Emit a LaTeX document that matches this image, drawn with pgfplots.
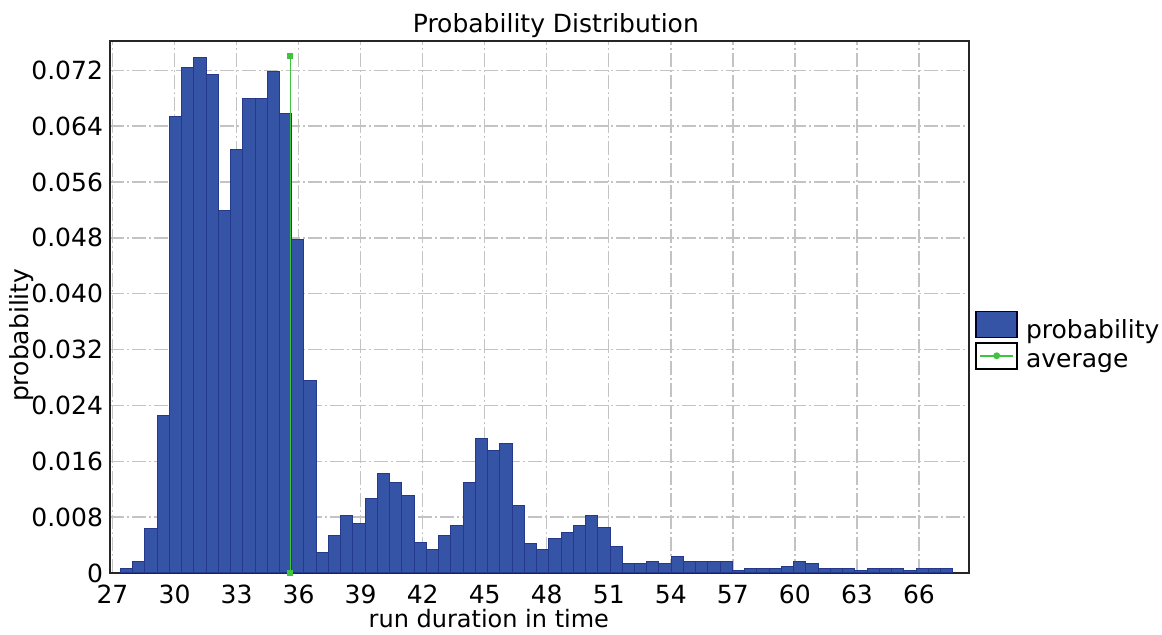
\documentclass[border=0pt]{standalone}
\usepackage{fontspec}
\setmainfont{DejaVu Sans}
\usepackage{pgfplots}
\pgfplotsset{compat=1.18}
\definecolor{barfill}{RGB}{54,84,166}
\definecolor{baredge}{RGB}{36,56,140}
\definecolor{avggreen}{RGB}{64,196,64}
\definecolor{gridgray}{RGB}{195,195,195}
\begin{document}
\begin{tikzpicture}
\begin{axis}[
  name=ax,
  scale only axis,
  width=429.5pt, height=266pt,
  xmin=26.88, xmax=68.42,
  ymin=0, ymax=0.0762,
  scaled y ticks=false,
  xtick={27,30,...,66},
  ytick={0,0.008,0.016,0.024,0.032,0.040,0.048,0.056,0.064,0.072},
  yticklabels={0,0.008,0.016,0.024,0.032,0.040,0.048,0.056,0.064,0.072},
  /pgf/number format/assume math mode=true,
  tick label style={font=\fontsize{12.5}{14}\selectfont},
  major tick length=0pt,
  grid=major,
  major grid style={gridgray, line width=0.7pt, dash pattern=on 7pt off 1.5pt on 1pt off 1.5pt},
  axis line style={black!85, line width=0.9pt},
  xticklabel style={anchor=base, yshift=-15.5pt},
  xlabel={run duration in time},
  xlabel style={at={(axis description cs:0.441,0)}, anchor=base, yshift=-27.5pt, font=\fontsize{12}{14}\selectfont},
  ylabel={probability},
  ylabel style={at={(axis description cs:-0.1024,0.447)}, anchor=center, font=\fontsize{12.5}{15}\selectfont},
  legend style={at={(axis description cs:1.007,0.494)}, anchor=north west, draw=none, fill=none, inner sep=0pt, row sep=0pt, column sep=4pt, nodes={inner sep=0pt, font=\fontsize{12.5}{14}\selectfont}},
  legend cell align=left,
]
\addplot[ybar interval, fill=barfill, draw=baredge, line width=0.5pt,
  legend image code/.code={\draw[fill=barfill, draw=black!80!blue, line width=0.8pt] (0pt,-3.2pt) rectangle (20.5pt,9.8pt);}]
coordinates {
(27.380,0.0006) (27.972,0.0016) (28.564,0.0064) (29.156,0.0225) (29.748,0.0654)
(30.340,0.0724) (30.932,0.0739) (31.524,0.0714) (32.116,0.0519) (32.708,0.0607)
(33.300,0.0679) (33.892,0.0679) (34.484,0.0718) (35.076,0.0658) (35.668,0.0477)
(36.260,0.0275) (36.852,0.0030) (37.444,0.0054) (38.036,0.0082) (38.628,0.0071)
(39.220,0.0107) (39.812,0.0143) (40.404,0.0129) (40.996,0.0111) (41.588,0.0044)
(42.180,0.0033) (42.772,0.0054) (43.364,0.0068) (43.956,0.0129) (44.548,0.0193)
(45.140,0.0175) (45.732,0.0185) (46.324,0.0097) (46.916,0.0042) (47.508,0.0034)
(48.100,0.0049) (48.692,0.0058) (49.284,0.0068) (49.876,0.0083) (50.468,0.0065)
(51.060,0.0038) (51.652,0.0013) (52.244,0.0013) (52.836,0.0017) (53.428,0.0013)
(54.020,0.0024) (54.612,0.0016) (55.204,0.0016) (55.796,0.0016) (56.388,0.0016)
(56.980,0.0003) (57.572,0.0006) (58.164,0.0006) (58.756,0.0006) (59.348,0.0010)
(59.940,0.0017) (60.532,0.0014) (61.124,0.0007) (61.716,0.0007) (62.308,0.0007)
(62.900,0.0004) (63.492,0.0007) (64.084,0.0007) (64.676,0.0007) (65.268,0.0004)
(65.860,0.0007) (66.452,0.0007) (67.044,0.0007) (67.636,0)
};
\addlegendentry{probability}
\addplot[avggreen, line width=0.8pt, mark=square*, mark size=1.1pt, mark options={fill=avggreen, draw=avggreen},
  legend image code/.code={\draw[fill=white, draw=black, line width=0.8pt] (0pt,-3.2pt) rectangle (20.5pt,9.8pt); \draw[avggreen, line width=1pt] (2pt,3.3pt) -- (18.5pt,3.3pt); \fill[avggreen] (10.25pt,3.3pt) circle (1.3pt);}]
coordinates {(35.60,0) (35.60,0.0741)};
\addlegendentry{average}
\end{axis}
\path (ax.north west) -- (ax.north east) node[pos=0.519, anchor=base, yshift=4pt, inner sep=0pt, font=\fontsize{12.5}{15}\selectfont] {Probability Distribution};
\pgfresetboundingbox
\path[use as bounding box] ([shift={(-55pt,-31pt)}]ax.south west) rectangle ([shift={(96.5pt,20.5pt)}]ax.north east);
\end{tikzpicture}
\end{document}
